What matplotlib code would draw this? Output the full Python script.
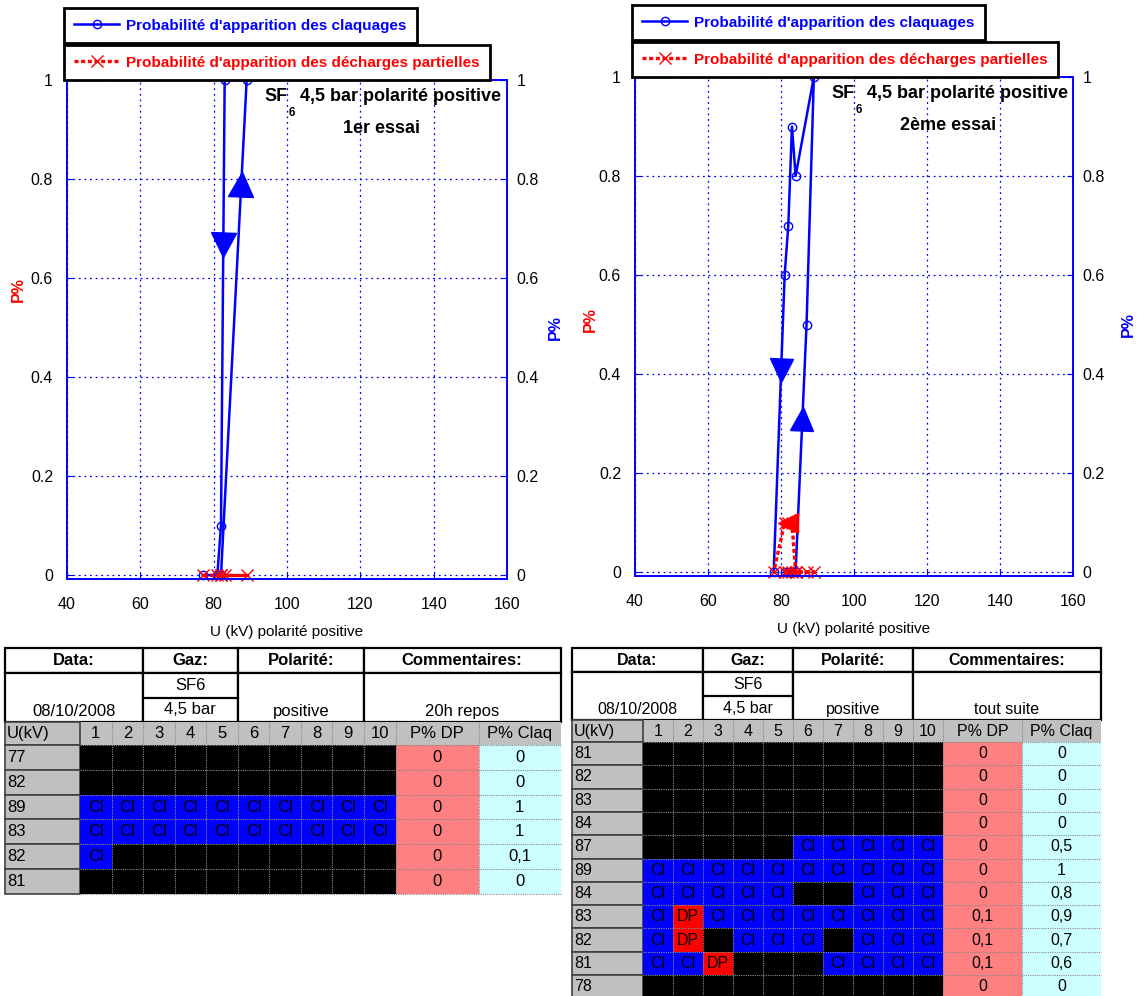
import numpy as np
import matplotlib
matplotlib.use("Agg")
import matplotlib.pyplot as plt
from matplotlib.patches import Rectangle
from matplotlib.markers import MarkerStyle
from matplotlib.transforms import Affine2D
from matplotlib.ticker import FuncFormatter

plt.rcParams['font.family'] = ['Liberation Sans', 'DejaVu Sans']

W, H = 1139, 996

# ---- 1er essai (20h repos) ----
u_1 = [77, 82, 89, 83, 82, 81]
claq_1 = [0, 0, 1, 1, 0.1, 0]
dp_1 = [0, 0, 0, 0, 0, 0]
# C = claquage, D = decharge partielle, - = rien
tirs_1 = ["----------",
          "----------",
          "CCCCCCCCCC",
          "CCCCCCCCCC",
          "C---------",
          "----------"]
info_1 = ["08/10/2008", "SF6", "4,5 bar", "positive", "20h repos"]

# ---- 2eme essai (tout suite) ----
u_2 = [81, 82, 83, 84, 87, 89, 84, 83, 82, 81, 78]
claq_2 = [0, 0, 0, 0, 0.5, 1, 0.8, 0.9, 0.7, 0.6, 0]
dp_2 = [0, 0, 0, 0, 0, 0, 0, 0.1, 0.1, 0.1, 0]
tirs_2 = ["----------",
          "----------",
          "----------",
          "----------",
          "-----CCCCC",
          "CCCCCCCCCC",
          "CCCCC--CCC",
          "CDCCCCCCCC",
          "CD-CCC-CCC",
          "CCD---CCCC",
          "----------"]
info_2 = ["08/10/2008", "SF6", "4,5 bar", "positive", "tout suite"]

lab_claq = "Probabilité d'apparition des claquages"
lab_dp = "Probabilité d'apparition des décharges partielles"

fig = plt.figure(figsize=(W / 100, H / 100), dpi=100)
tab = fig.add_axes([0, 0, 1, 1])
tab.set_xlim(0, W)
tab.set_ylim(H, 0)
tab.axis('off')


def fleche(ax, x, y, seg, frac, color, size):
    # triangle pose sur le segment seg, oriente dans le sens du parcours
    x0, x1, y0, y1 = x[seg], x[seg + 1], y[seg], y[seg + 1]
    px, py = x0 + frac * (x1 - x0), y0 + frac * (y1 - y0)
    d0 = ax.transData.transform((x0, y0))
    d1 = ax.transData.transform((x1, y1))
    ang = np.degrees(np.arctan2(d1[1] - d0[1], d1[0] - d0[0]))
    m = MarkerStyle('^', transform=Affine2D().rotate_deg(ang - 90))
    ax.plot(px, py, marker=m, ms=size, color=color, ls='none', zorder=6, clip_on=False)


def courbe(rect, u, claq, dp, essai, fleches, ylab_y):
    l, t, r, b = rect
    ax = fig.add_axes([l / W, 1 - b / H, (r - l) / W, (b - t) / H])
    ax.set_xlim(40, 160)
    ax.set_ylim(-0.008, 1)
    ax.set_xticks(range(40, 161, 20))
    ax.set_yticks(np.arange(0, 1.01, 0.2))
    fmt = FuncFormatter(lambda v, p: '%g' % round(v, 2))
    ax.yaxis.set_major_formatter(fmt)
    ax.grid(True, color='blue', ls=(0, (1.5, 3)), lw=0.9)
    for s in ax.spines.values():
        s.set_color('blue')
        s.set_linewidth(1.2)
    ax.tick_params(direction='in', length=4, color='blue', labelsize=11.5, pad=10)
    ax.tick_params(axis='x', pad=13)

    hc, = ax.plot(u, claq, '-o', color='blue', lw=1.8, ms=6, mfc='none', mew=1.0,
                  clip_on=False, zorder=4)
    hd, = ax.plot(u, dp, color='red', ls=(0, (1.2, 0.8)), lw=2.4, marker='x', ms=8,
                  mew=1.0, clip_on=False, zorder=5)

    for serie, seg, frac, col, sz in fleches:
        yy = claq if serie == 'claq' else dp
        fleche(ax, u, yy, seg, frac, col, sz)

    ax.set_xlabel('U (kV) polarité positive', fontsize=11, labelpad=9)
    ax.text(-(l - ylab_y[0]) / (r - l), ylab_y[1], 'P%', color='red', fontweight='bold',
            fontsize=11.5, rotation=90, ha='center', va='center', transform=ax.transAxes)

    ax2 = ax.twinx()
    ax2.set_ylim(-0.008, 1)
    ax2.set_yticks(np.arange(0, 1.01, 0.2))
    ax2.yaxis.set_major_formatter(fmt)
    ax2.tick_params(direction='in', length=4, color='blue', labelsize=11.5, pad=7)
    for s in ax2.spines.values():
        s.set_color('blue')
        s.set_linewidth(1.2)
    ax2.text((ylab_y[2] - l) / (r - l), 0.503, 'P%', color='blue', fontweight='bold',
             fontsize=11.5, rotation=90, ha='center', va='center', transform=ax.transAxes)

    # titre dans le graphe
    t1 = ax.text(0.448, 0.966, 'SF', fontsize=13, fontweight='bold', va='center',
                 ha='left', transform=ax.transAxes)
    ax.annotate('6', xy=(1, 0), xycoords=t1, xytext=(1, -1), textcoords='offset points',
                fontsize=8.5, fontweight='bold', va='top', ha='left')
    ax.annotate('4,5 bar polarité positive', xy=(1, 0), xycoords=t1, xytext=(9, 0),
                textcoords='offset points', fontsize=13, fontweight='bold', va='bottom', ha='left')
    ax.text(0.715, 0.902, essai, fontsize=13, fontweight='bold', va='center', ha='center',
            transform=ax.transAxes)

    # deux legendes separees au-dessus du cadre
    common = dict(loc='lower left', bbox_transform=fig.transFigure, fancybox=False,
                  framealpha=1, edgecolor='black', borderaxespad=0, borderpad=0.68,
                  handlelength=2.9, handletextpad=0.5,
                  prop={'weight': 'bold', 'size': 11})
    leg1 = ax2.legend(handles=[hc], labels=[lab_claq],
                      bbox_to_anchor=((l - 3) / W, 1 - (t - 37) / H), **common)
    leg1.get_frame().set_linewidth(2)
    leg1.get_texts()[0].set_color('blue')
    ax2.add_artist(leg1)
    leg2 = ax2.legend(handles=[hd], labels=[lab_dp],
                      bbox_to_anchor=((l - 3) / W, 1 - t / H), **common)
    leg2.get_frame().set_linewidth(2)
    leg2.get_texts()[0].set_color('red')
    return ax


courbe((67, 80, 507, 579), u_1, claq_1, dp_1, '1er essai',
       [('claq', 1, 0.79, 'blue', 18), ('claq', 3, 0.37, 'blue', 18)],
       (18, 0.58, 555))
courbe((635, 77, 1073, 576), u_2, claq_2, dp_2, '2ème essai',
       [('claq', 3, 0.62, 'blue', 17), ('claq', 9, 0.32, 'blue', 17),
        ('dp', 7, 1.0, 'red', 14)],
       (590, 0.513, 1128))


def fr(v):
    return ('%g' % v).replace('.', ',')


def tableau(x0, xl, cw, wdp, wcl, y0, hh, hb, hu, hr, u, tirs, dp, claq, info, fs):
    ex = [x0, xl] + [xl + cw * (i + 1) for i in range(10)]
    ex += [ex[-1] + wdp, ex[-1] + wdp + wcl]
    y1 = y0 + hh
    y2 = y1 + hb
    ym = (y1 + y2) / 2
    y3 = y2 + hu
    groupes = [(0, 3, 'Data:'), (3, 6, 'Gaz:'), (6, 10, 'Polarité:'), (10, 13, 'Commentaires:')]
    for i0, i1, nom in groupes:
        tab.add_patch(Rectangle((ex[i0], y0), ex[i1] - ex[i0], hh, fc='white', ec='black', lw=1.6))
        tab.add_patch(Rectangle((ex[i0], y1), ex[i1] - ex[i0], hb, fc='white', ec='black', lw=1.6))
        tab.text((ex[i0] + ex[i1]) / 2, y0 + hh / 2, nom, ha='center', va='center',
                 fontsize=fs, fontweight='bold')
    tab.plot([ex[3], ex[6]], [ym, ym], color='black', lw=1.6)
    yb = y2 - 11
    tab.text((ex[0] + ex[3]) / 2, yb, info[0], ha='center', va='center', fontsize=fs)
    tab.text((ex[3] + ex[6]) / 2, (y1 + ym) / 2, info[1], ha='center', va='center', fontsize=fs)
    tab.text((ex[3] + ex[6]) / 2, (ym + y2) / 2, info[2], ha='center', va='center', fontsize=fs)
    tab.text((ex[6] + ex[10]) / 2, yb, info[3], ha='center', va='center', fontsize=fs)
    tab.text((ex[10] + ex[13]) / 2, yb, info[4], ha='center', va='center', fontsize=fs)

    # ligne d'en-tete des colonnes
    tab.add_patch(Rectangle((ex[1], y2), ex[13] - ex[1], hu, fc='#c0c0c0', ec='none'))
    tab.add_patch(Rectangle((ex[0], y2), ex[1] - ex[0], hu, fc='#c0c0c0', ec='#404040', lw=1.2))
    tab.text(ex[0] + 2, y2 + hu / 2, 'U(kV)', ha='left', va='center', fontsize=fs)
    noms = [str(i + 1) for i in range(10)] + ['P% DP', 'P% Claq']
    for k, n in enumerate(noms):
        tab.text((ex[k + 1] + ex[k + 2]) / 2, y2 + hu / 2, n, ha='center', va='center', fontsize=fs)

    couleurs = {'-': 'black', 'C': '#0000ff', 'D': '#ff0000'}
    textes = {'-': '', 'C': 'Cl', 'D': 'DP'}
    for i, uu in enumerate(u):
        yr = y3 + i * hr
        tab.add_patch(Rectangle((ex[0], yr), ex[1] - ex[0], hr, fc='#c0c0c0', ec='#404040', lw=1.2))
        tab.text(ex[0] + 2, yr + hr / 2, str(uu), ha='left', va='center', fontsize=fs)
        for k, c in enumerate(tirs[i]):
            tab.add_patch(Rectangle((ex[k + 1], yr), cw, hr, fc=couleurs[c], ec='none'))
            if textes[c]:
                tab.text(ex[k + 1] + cw / 2, yr + hr / 2, textes[c], ha='center', va='center',
                         fontsize=fs, color='black')
        tab.add_patch(Rectangle((ex[11], yr), wdp, hr, fc='#ff8080', ec='none'))
        tab.add_patch(Rectangle((ex[12], yr), wcl, hr, fc='#ccffff', ec='none'))
        tab.text((ex[11] + ex[12]) / 2, yr + hr / 2, fr(dp[i]), ha='center', va='center', fontsize=fs)
        tab.text((ex[12] + ex[13]) / 2, yr + hr / 2, fr(claq[i]), ha='center', va='center', fontsize=fs)
    yfin = y3 + len(u) * hr
    for xx in ex[2:13]:
        tab.plot([xx, xx], [y2, yfin], color='#8a8a8a', ls=(0, (1, 1)), lw=0.8)
    for i in range(len(u) + 1):
        yy = y3 + i * hr
        tab.plot([ex[1], ex[13]], [yy, yy], color='#8a8a8a', ls=(0, (1, 1)), lw=0.8)


tableau(5, 80, 31.55, 83, 82, 648, 25, 49, 23, 24.8, u_1, tirs_1, dp_1, claq_1, info_1, 12)
tableau(572, 643, 30.0, 79, 79, 648, 24, 48, 22, 23.3, u_2, tirs_2, dp_2, claq_2, info_2, 11.5)

fig.savefig('out.png', dpi=100)
